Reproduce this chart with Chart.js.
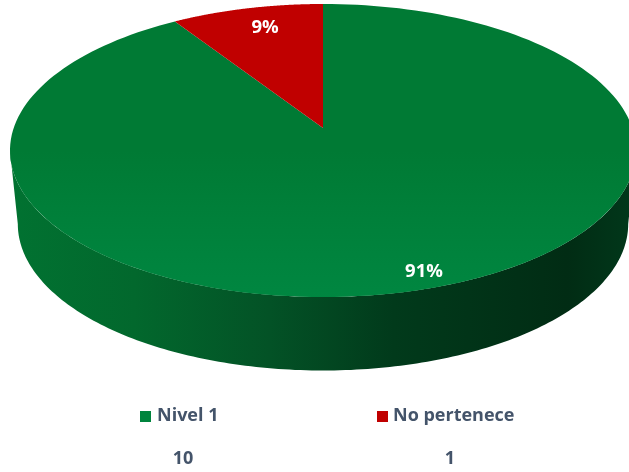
<!DOCTYPE html>
<html>
<head>
<meta charset="utf-8">
<style>html,body{margin:0;padding:0;background:#fff}#w{width:629px;height:472px;position:relative}</style>
<script src="https://cdn.jsdelivr.net/npm/chart.js@4/dist/chart.umd.js"></script>
</head>
<body>
<div id="w"><canvas id="c"></canvas></div>
<script>
const categories = ['Nivel 1', 'No pertenece'];
const seriesValues = [10, 1];
const sliceColors = ['#007a34', '#c00000'];
const legendColors = ['#00843d', '#c00000'];
const percentLabels = ['91%', '9%'];

// Projection of the flat disc on the tilted plane (3D look)
const CX = 323, R0 = 309.3, K = -0.1536, YC = 128, YA = 123.39;
const DEPTH = 73.5, BOTTOM_SCALE = 0.975;
function project(a, lower) {
  const u = Math.sin(a), v = -Math.cos(a), w = 1 + K * v;
  const s = lower ? BOTTOM_SCALE : 1;
  return [CX + s * R0 * u / w, (YC + YA * v) / w + (lower ? DEPTH : 0)];
}
const FRONT_START = 98.8 * Math.PI / 180, FRONT_END = 261.2 * Math.PI / 180;

class TiltedArc extends Chart.ArcElement {
  draw(ctx) {
    const a0 = this.startAngle + Math.PI / 2, a1 = this.endAngle + Math.PI / 2;
    const n = 180;
    // side wall, only where the slice faces the viewer
    const s0 = Math.max(a0, FRONT_START), s1 = Math.min(a1, FRONT_END);
    if (s1 > s0) {
      const g = ctx.createLinearGradient(10, 0, 629, 0);
      g.addColorStop(0, '#017231');
      g.addColorStop(0.2, '#02682d');
      g.addColorStop(0.42, '#035226');
      g.addColorStop(0.62, '#013a1b');
      g.addColorStop(0.9, '#012c14');
      g.addColorStop(1, '#01371a');
      ctx.beginPath();
      for (let i = 0; i <= n; i++) {
        const p = project(s0 + (s1 - s0) * i / n, false);
        i ? ctx.lineTo(p[0], p[1]) : ctx.moveTo(p[0], p[1]);
      }
      for (let i = n; i >= 0; i--) {
        const p = project(s0 + (s1 - s0) * i / n, true);
        ctx.lineTo(p[0], p[1]);
      }
      ctx.closePath();
      ctx.fillStyle = g;
      ctx.fill();
    }
    // top face
    ctx.beginPath();
    ctx.moveTo(CX, YC);
    for (let i = 0; i <= n; i++) {
      const p = project(a0 + (a1 - a0) * i / n, false);
      ctx.lineTo(p[0], p[1]);
    }
    ctx.closePath();
    ctx.fillStyle = this.options.backgroundColor;
    ctx.fill();
    const sheen = ctx.createLinearGradient(0, 150, 0, 297);
    sheen.addColorStop(0, 'rgba(0,140,70,0)');
    sheen.addColorStop(1, 'rgba(0,140,70,0.7)');
    ctx.fillStyle = sheen;
    ctx.fill();
  }
}
TiltedArc.id = 'tiltedArc';
TiltedArc.defaults = Chart.ArcElement.defaults;
TiltedArc.defaultRoutes = Chart.ArcElement.defaultRoutes;

class TiltedPie extends Chart.PieController {}
TiltedPie.id = 'tiltedPie';
TiltedPie.defaults = Object.assign({}, Chart.PieController.defaults, { dataElementType: 'tiltedArc' });
TiltedPie.overrides = Chart.PieController.overrides;
Chart.register(TiltedArc, TiltedPie);

const labelsPlugin = {
  id: 'pieText',
  afterDraw(chart) {
    const ctx = chart.ctx;
    ctx.save();
    ctx.textAlign = 'center';
    ctx.textBaseline = 'middle';
    ctx.font = 'bold 18.5px "Open Sans"';
    ctx.fillStyle = '#ffffff';
    ctx.fillText(percentLabels[0], 424, 272);
    ctx.fillText(percentLabels[1], 265, 28);
    ctx.font = 'bold 18px "Open Sans"';
    ctx.fillStyle = '#44546a';
    ctx.fillText(String(seriesValues[0]), 183, 459);
    ctx.fillText(String(seriesValues[1]), 450, 459);
    // legend row
    ctx.textAlign = 'left';
    [[140, 157], [377, 393]].forEach(function (pos, i) {
      ctx.fillStyle = legendColors[i];
      ctx.fillRect(pos[0], 411, 11, 11);
      ctx.fillStyle = '#44546a';
      ctx.fillText(categories[i], pos[1], 416);
    });
    ctx.restore();
  }
};

new Chart(document.getElementById('c'), {
  type: 'tiltedPie',
  data: {
    labels: categories,
    datasets: [{ data: seriesValues, backgroundColor: sliceColors, borderWidth: 0 }]
  },
  options: {
    responsive: true,
    maintainAspectRatio: false,
    animation: false,
    plugins: {
      tooltip: { enabled: false },
      legend: { display: false }
    }
  },
  plugins: [labelsPlugin]
});
</script>
</body>
</html>
